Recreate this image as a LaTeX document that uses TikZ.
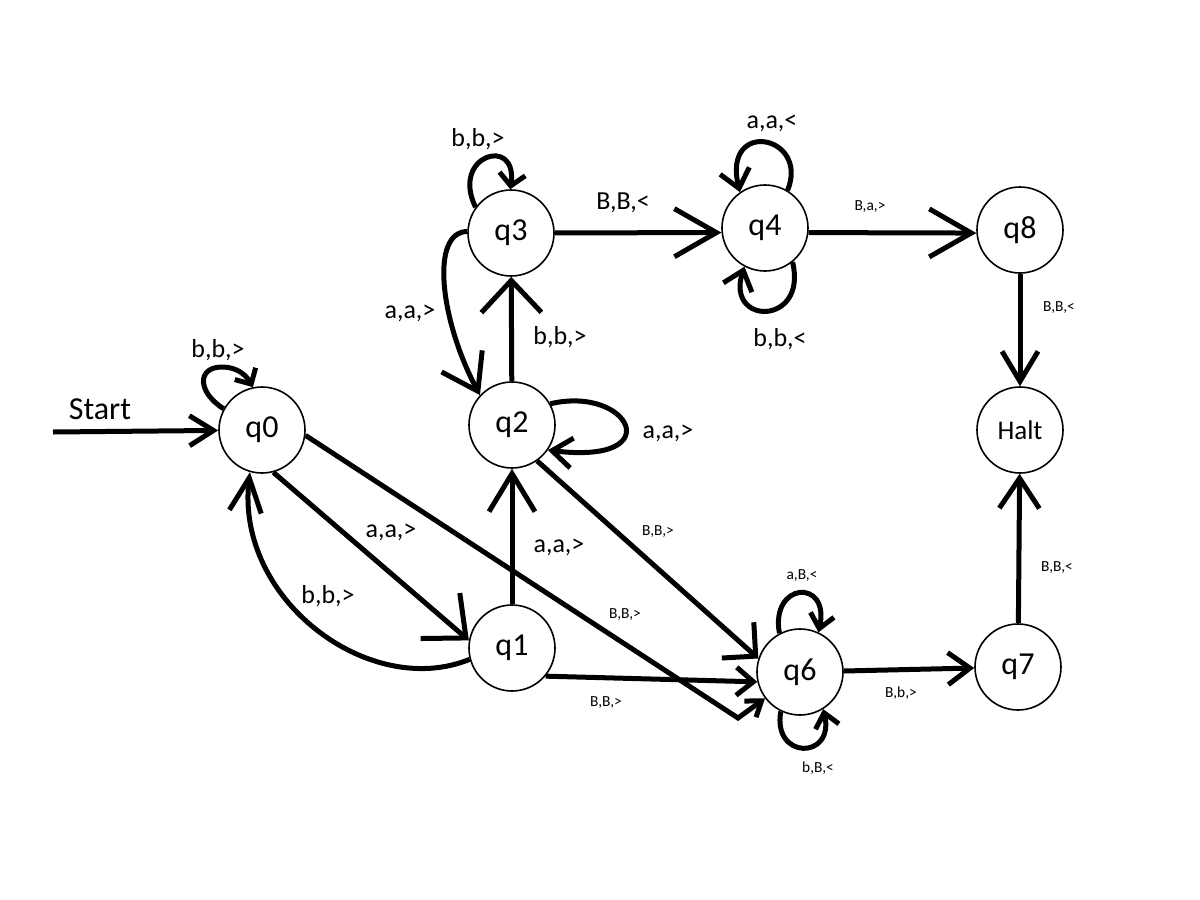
\documentclass[tikz,border=0pt]{standalone}
\usepackage{fontspec}
\setmainfont{Carlito}
\usetikzlibrary{arrows.meta}
\begin{document}
\begin{tikzpicture}[x=0.5pt,y=-0.5pt,
  state/.style={circle,draw,line width=0.8pt,minimum size=43pt,inner sep=0pt,font=\fontsize{16}{18}\selectfont},
  edge/.style={line width=2.5pt},
  ar/.style 2 args={-{Straight Barb[length=#1,width=#2]}},
  lbl/.style={font=\fontsize{13}{15}\selectfont,inner sep=0pt},
  slbl/.style={font=\fontsize{7.7}{9}\selectfont,inner sep=0pt}]
\useasboundingbox (0,0) rectangle (1200,900);
% states
\node[state] (q0) at (262,430) {q0};
\node[state] (q1) at (512,648) {q1};
\node[state] (q2) at (512,425) {q2};
\node[state] (q3) at (511,233) {q3};
\node[state] (q4) at (765,228) {q4};
\node[state] (q8) at (1020,230) {q8};
\node[state,font=\fontsize{13.5}{15}\selectfont] (halt) at (1020,430) {Halt};
\node[state] (q6) at (800,672) {q6};
\node[state] (q7) at (1018,667) {q7};
\coordinate (st) at (53,432);
\coordinate (c06) at (738,718);
% edges
\draw[edge,ar={12pt}{15pt}] (st) -- (q0);
\draw[edge,ar={6pt}{12pt}] (q0.151) .. controls (197,392) and (197,367) .. (222,367) .. controls (237,367) and (246,375) .. (q0.102);
\draw[edge,ar={17pt}{30pt}] (q0.-75) -- (q1.170);
\draw[edge,ar={17pt}{16pt}] (q1.195) .. controls (370,700) and (235,600) .. (q0.-106);
\draw[edge,ar={7pt}{10pt}] (q0.-7) -- (c06) -- (q6.217);
\draw[edge,ar={19pt}{23pt}] (q1) -- (q2);
\draw[edge,ar={8.5pt}{14pt}] (q1.-40) -- (q6.193);
\draw[edge,ar={16pt}{30pt}] (q2) -- (q3);
\draw[edge,ar={17pt}{23pt}] (q3.178) .. controls (430,232) and (440,320) .. (q2.137);
\draw[edge,ar={10pt}{15pt}] (q2.29) .. controls (630,385) and (670,465) .. (q2.-35);
\draw[edge,ar={12pt}{24pt}] (q2.-55) -- (q6.162);
\draw[edge,ar={21pt}{24pt}] (q3) -- (q4.186);
\draw[edge,ar={6pt}{13pt}] (q3.144) .. controls (450,155) and (518,135) .. (q3.91);
\draw[edge,ar={9pt}{15pt}] (q4.59) .. controls (810,135) and (722,118) .. (q4.125);
\draw[edge,ar={9pt}{15pt}] (q4.-51) .. controls (808,326) and (725,326) .. (q4.-118);
\draw[edge,ar={21pt}{24pt}] (q4.-6) -- (q8.184);
\draw[edge,ar={15pt}{18pt}] (q8) -- (halt);
\draw[edge,ar={7pt}{12pt}] (q6.118) .. controls (770,582) and (830,578) .. (q6.65);
\draw[edge,ar={7pt}{12pt}] (q6.-116) .. controls (772,760) and (835,760) .. (q6.-58);
\draw[edge,ar={11pt}{16pt}] (q6) -- (q7);
\draw[edge,ar={15pt}{20pt}] (q7) -- (halt);
% labels
\node[font=\fontsize{16}{18}\selectfont,inner sep=0pt] (lstart) at (100,409) {Start};
\node[lbl] (l1) at (218,350) {b,b,>};
\node[lbl] (l2) at (478,139) {b,b,>};
\node[lbl] (l3) at (410,313) {a,a,>};
\node[lbl] (l4) at (560,337) {b,b,>};
\node[lbl] (l5) at (668,433) {a,a,>};
\node[lbl] (l6) at (623,203) {B,B,<};
\node[lbl] (l7) at (772,123) {a,a,<};
\node[lbl] (l8) at (780,339) {b,b,<};
\node[lbl] (l9) at (391,532) {a,a,>};
\node[lbl] (l10) at (328,596) {b,b,>};
\node[lbl] (l11) at (559,547) {a,a,>};
\node[slbl] (s1) at (870,207) {B,a,>};
\node[slbl] (s2) at (1059,308) {B,B,<};
\node[slbl] (s3) at (658,532) {B,B,>};
\node[slbl] (s4) at (625,615) {B,B,>};
\node[slbl] (s5) at (606,703) {B,B,>};
\node[slbl] (s6) at (802,576) {a,B,<};
\node[slbl] (s7) at (818,768) {b,B,<};
\node[slbl] (s8) at (901,693) {B,b,>};
\node[slbl] (s9) at (1057,568) {B,B,<};
\end{tikzpicture}
\end{document}
